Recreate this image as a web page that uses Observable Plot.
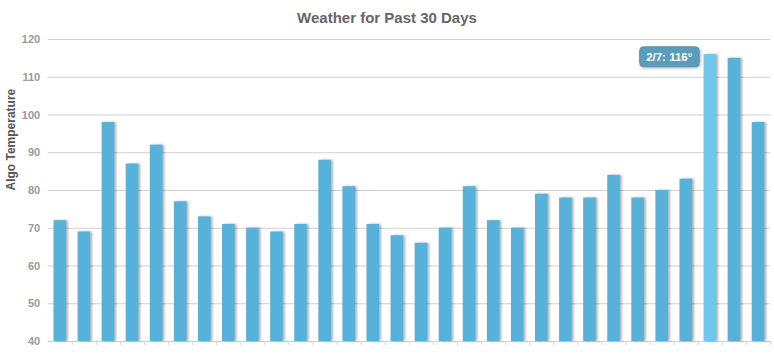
<!DOCTYPE html>
<html><head><meta charset="utf-8">
<script src="https://cdn.jsdelivr.net/npm/d3@7"></script>
<script src="https://cdn.jsdelivr.net/npm/@observablehq/plot@0.6"></script>
<style>
body{margin:0;background:#fff;font-family:Arial,"Liberation Sans",sans-serif;}
#title{height:30px;line-height:36px;text-align:center;font-size:15px;font-weight:bold;color:#666;}
#chart svg g[aria-description="bars"] rect{filter:drop-shadow(2px 0.5px 1px rgba(0,0,0,0.3));}
</style></head><body>
<div id="title">Weather for Past 30 Days</div>
<div id="chart"></div>
<script>
const dates = ["1/11","1/12","1/13","1/14","1/15","1/16","1/17","1/18","1/19","1/20",
  "1/21","1/22","1/23","1/24","1/25","1/26","1/27","1/28","1/29","1/30",
  "1/31","2/1","2/2","2/3","2/4","2/5","2/6","2/7","2/8","2/9"];
const temps = [72,69,98,87,92,77,73,71,70,69,
  71,88,81,71,68,66,70,81,72,70,
  79,78,78,84,78,80,83,116,115,98];
const highlighted = "2/7";
const yTicks = [40,50,60,70,80,90,100,110,120];
const yLabel = "Algo Temperature";
const titleText = "Weather for Past 30 Days";

const data = dates.map((d, i) => ({date: d, temp: temps[i], hi: d === highlighted}));
const W = 774, H = 332, mL = 47.7, mR = 4;
const step = (W - mL - mR) / dates.length;

const chart = Plot.plot({
  width: W, height: H,
  marginTop: 9, marginBottom: 21, marginLeft: mL, marginRight: mR,
  style: {fontFamily: "Arial, 'Liberation Sans', sans-serif", background: "#fff", overflow: "visible"},
  x: {domain: dates, paddingInner: 0.48, paddingOuter: 0.24, round: false, axis: null},
  y: {domain: [yTicks[0], yTicks[yTicks.length - 1]], axis: null},
  marks: [
    Plot.gridY(yTicks, {stroke: "#d0d0d0", strokeOpacity: 1}),
    Plot.axisY(yTicks, {tickSize: 0, tickPadding: 8, fill: "#9a9a9a", fontWeight: "bold", fontSize: 11, label: null}),
    Plot.axisX({tickFormat: () => "", tickSize: 4, stroke: "#c9d6de", dx: step / 2, label: null}),
    Plot.barY(data, {x: "date", y1: () => yTicks[0], y2: "temp",
      fill: d => d.hi ? "#6ec8ee" : "#56b2da", ariaDescription: "bars"}),
    Plot.text([yLabel], {frameAnchor: "left", rotate: -90, dx: -37, text: d => d,
      fontSize: 12, fontWeight: "bold", fill: "#555"}),
    Plot.text(data.filter(d => d.hi), {x: "date", y: "temp", text: d => `${d.date}: ${d.temp}°`,
      textAnchor: "end", dx: -18, dy: 2.5, fill: "#fff", fontWeight: "bold", fontSize: 11.5,
      ariaDescription: "tooltip"})
  ]
});
document.getElementById("chart").appendChild(chart);

// tooltip box behind the label
const tip = chart.querySelector('g[aria-description="tooltip"] text');
if (tip) {
  const b = tip.getBBox();
  const r = document.createElementNS("http://www.w3.org/2000/svg", "rect");
  r.setAttribute("x", b.x - 6.5);
  r.setAttribute("y", b.y - 4);
  r.setAttribute("width", b.width + 13);
  r.setAttribute("height", b.height + 8);
  r.setAttribute("rx", 4);
  r.setAttribute("fill", "#5a9cba");
  r.setAttribute("stroke", "#4f8dab");
  r.setAttribute("stroke-width", 0.8);
  r.setAttribute("style", "filter:drop-shadow(1px 1px 1.5px rgba(0,0,0,0.3))");
  if (tip.getAttribute("transform")) r.setAttribute("transform", tip.getAttribute("transform"));
  tip.parentNode.insertBefore(r, tip);
}
</script>
</body></html>
